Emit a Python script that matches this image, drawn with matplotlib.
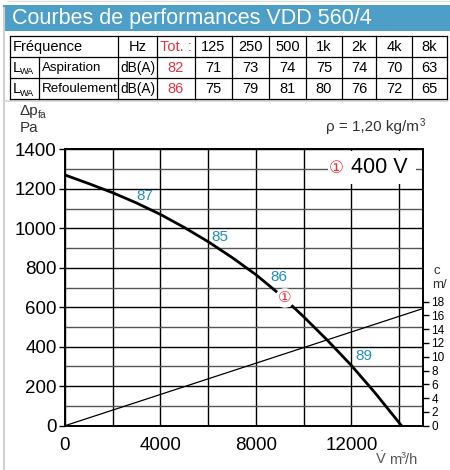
import matplotlib.pyplot as plt
from matplotlib.patches import Rectangle

W, H = 450, 470

# sound power table
freq_bands = ['125', '250', '500', '1k', '2k', '4k', '8k']
lwa_aspiration = [71, 73, 74, 75, 74, 70, 63]
lwa_refoulement = [75, 79, 81, 80, 76, 72, 65]
tot_aspiration = 82
tot_refoulement = 86

# fan curve, Pa vs m3/h
flow = [0, 1000, 2000, 3000, 4000, 5000, 6000, 7000, 8000, 9000,
        10000, 11000, 12000, 13000, 14100]
pressure = [1270, 1226, 1180, 1128, 1070, 1004, 932, 852, 765, 665,
            552, 432, 305, 165, 0]

# outlet velocity line, m/s
velocity_flow = [0, 15000]
velocity = [0, 17.0]

# sound level labels along the curve
level_labels = ['87', '85', '86', '89']
level_flow = [3350, 6490, 8960, 12520]
level_pressure = [1164, 956, 753, 353]

# operating point marker
point_flow = 9215
point_pressure = 647

plt.rcParams['font.family'] = ['Liberation Sans', 'DejaVu Sans', 'Noto Sans CJK SC']
plt.rcParams['mathtext.fontset'] = 'custom'
plt.rcParams['mathtext.rm'] = 'Liberation Sans'
RED = '#e5333f'
BLUE = '#1e8fc0'
BAND = '#4d9fc7'
TXT = '#333333'
GREY = '#555555'
CIRCLED = ['DejaVu Sans', 'Noto Sans CJK SC']

fig = plt.figure(figsize=(W / 100, H / 100), dpi=100)

# background layer in pixel coordinates
bg = fig.add_axes([0, 0, 1, 1])
bg.set_xlim(0, W)
bg.set_ylim(H, 0)
bg.axis('off')

bg.plot([3.5, 3.5], [8, H], color='#cfcfcf', lw=1.5)
bg.plot([8, W], [0.8, 0.8], color='#dddddd', lw=1)
bg.plot([4, 447], [101, 101], color='#d5d5d5', lw=1.2)
bg.add_patch(Rectangle((3, 5), W - 3, 26, color=BAND, lw=0))
bg.text(12, 18.5, 'Courbes de performances VDD 560/4', color='white',
        fontsize=15.5, va='center', ha='left')

# table grid
rows = [36, 57, 78, 99]
cols = [10, 118, 157, 195, 232, 269, 306, 342, 376, 412, 447]
for y in rows:
    bg.plot([cols[0], cols[-1]], [y, y], color='black', lw=0.9)
for x in cols:
    bg.plot([x, x], [rows[0], rows[-1]], color='black', lw=0.9)
bg.plot([39, 39], [rows[1], rows[-1]], color='black', lw=0.9)


def cell(x, y, s, color='black', ha='center', size=10.5):
    bg.text(x, y, s, fontsize=size, color=color, ha=ha, va='center')


ry = [(rows[i] + rows[i + 1]) / 2 + 0.5 for i in range(3)]
cell(13, ry[0], 'Fréquence', ha='left')
cell(137.5, ry[0], 'Hz')
cell(176, ry[0], 'Tot. :', color=RED)
for i, b in enumerate(freq_bands):
    cx = (cols[3 + i] + cols[4 + i]) / 2
    cell(cx, ry[0], b)
    cell(cx, ry[1], str(lwa_aspiration[i]))
    cell(cx, ry[2], str(lwa_refoulement[i]))
for r, name, tot in [(1, 'Aspiration', tot_aspiration), (2, 'Refoulement', tot_refoulement)]:
    cell(12.5, ry[r], 'L', ha='left')
    bg.text(19.5, ry[r] + 4, 'WA', fontsize=6.5, ha='left', va='center')
    cell(41.5, ry[r], name, ha='left', size=9.6)
    cell(137.5, ry[r], 'dB(A)', size=9.8)
    cell(176, ry[r], str(tot), color=RED)

# axis captions
bg.text(20, 111, 'Δp', fontsize=11, color=TXT, va='center')
bg.text(38, 114.5, 'fa', fontsize=7.5, color=TXT, va='center')
bg.text(20, 128, 'Pa', fontsize=11, color=TXT, va='center')
bg.text(419, 127, 'ρ = 1,20 kg/m', fontsize=11, color=TXT, ha='right', va='center')
bg.text(419.5, 122.5, '3', fontsize=7, color=TXT, ha='left', va='center')
bg.text(433, 271, 'c', fontsize=9.5, color=TXT, va='center')
bg.text(432, 285, 'm/', fontsize=9.5, color=TXT, va='center')
bg.text(375, 463.5, r'$\dot{\mathrm{V}}$', fontsize=10.5, color=GREY, va='baseline')
bg.text(389, 463.5, 'm', fontsize=10.5, color=GREY, va='baseline')
bg.text(400.5, 457.5, '3', fontsize=6.5, color=GREY, va='baseline')
bg.text(405, 463.5, '/h', fontsize=10.5, color=GREY, va='baseline')

# chart
x0, x1, ytop, ybot = 65, 423, 149.3, 425.7
ax = fig.add_axes([x0 / W, 1 - ybot / H, (x1 - x0) / W, (ybot - ytop) / H])
ax.set_xlim(0, 15000)
ax.set_ylim(0, 1400)
ax.set_axisbelow(True)
ax.set_xticks(range(0, 15000, 2000))
ax.set_xticklabels(['0', '', '4000', '', '8000', '', '12000', ''])
ax.set_yticks(range(0, 1401, 200))
ax.set_yticks(range(100, 1400, 200), minor=True)
ax.tick_params(axis='x', length=0, pad=8, labelsize=13.5)
ax.tick_params(axis='y', which='major', length=4, width=1, labelsize=13.5, pad=2)
ax.tick_params(axis='y', which='minor', length=0)
ax.grid(which='major', color='black', lw=1)
ax.grid(which='minor', axis='y', color='#555555', lw=1)
for s in ax.spines.values():
    s.set_linewidth(1.2)

ax.plot(flow, pressure, color='black', lw=2, zorder=3)

for s, fx, py in zip(level_labels, level_flow, level_pressure):
    ax.text(fx, py, s, color=BLUE, fontsize=11, ha='center', va='center', zorder=4)

ax.text(point_flow, point_pressure, '①', color=RED, fontsize=11, family=CIRCLED,
        ha='center', va='center', zorder=4,
        bbox=dict(boxstyle='circle,pad=0.15', fc='white', ec='none'))

# label box
ax.add_patch(Rectangle((0.735, 0.875), 0.245, 0.12, transform=ax.transAxes,
                       fc='white', ec='none', zorder=1.5))
ax.text(0.757, 0.934, '①', transform=ax.transAxes, color=RED, fontsize=12,
        family=CIRCLED, ha='center', va='center', zorder=4)
ax.text(0.877, 0.934, '400 V', transform=ax.transAxes, color='black', fontsize=15.5,
        ha='center', va='center', zorder=4)

ax2 = ax.twinx()
ax2.set_ylim(0, 40.1)
ax2.set_yticks(range(0, 19, 2))
ax2.tick_params(axis='y', length=4, width=1, labelsize=8.5, pad=2)
ax2.plot(velocity_flow, velocity, color='black', lw=0.9)
for s in ax2.spines.values():
    s.set_linewidth(1.2)

fig.savefig('out.png', dpi=100)
